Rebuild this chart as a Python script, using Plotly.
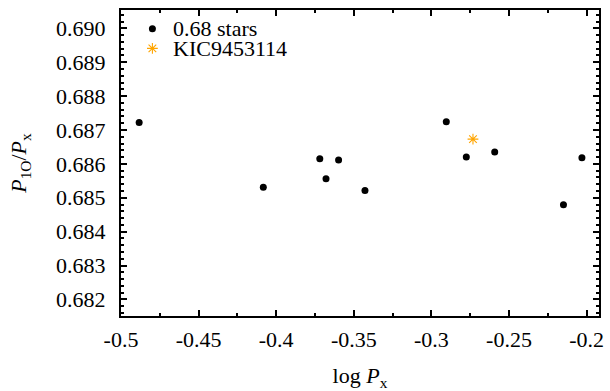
import plotly.graph_objects as go

# 0.68 stars
stars_logP = [-0.4883, -0.4083, -0.3719, -0.3679, -0.3598, -0.3428, -0.2904, -0.2775, -0.2592, -0.2149, -0.2030]
stars_ratio = [0.68722, 0.68531, 0.68615, 0.68556, 0.68611, 0.68521, 0.68724, 0.68620, 0.68635, 0.68479, 0.68618]

# KIC9453114
kic_logP = [-0.2732]
kic_ratio = [0.68673]

series_names = ["0.68 stars", "KIC9453114"]

x_ticks = [-0.5, -0.45, -0.4, -0.35, -0.3, -0.25, -0.2]
x_tick_labels = ["-0.5", "-0.45", "-0.4", "-0.35", "-0.3", "-0.25", "-0.2"]
y_ticks = [0.682, 0.683, 0.684, 0.685, 0.686, 0.687, 0.688, 0.689, 0.690]
y_tick_labels = ["0.682", "0.683", "0.684", "0.685", "0.686", "0.687", "0.688", "0.689", "0.690"]

FONT = "'Liberation Serif', 'Times New Roman', Times, serif"
STAR_COLOR = "#FFA500"

star_marker = dict(symbol="asterisk-open", size=9, color=STAR_COLOR,
                   line=dict(color=STAR_COLOR, width=1.1))
dot_marker = dict(symbol="circle", size=7, color="black")

fig = go.Figure()
fig.add_trace(go.Scatter(
    x=stars_logP, y=stars_ratio, mode="markers", name=series_names[0],
    marker=dot_marker, showlegend=False,
))
fig.add_trace(go.Scatter(
    x=kic_logP, y=kic_ratio, mode="markers", name=series_names[1],
    marker=star_marker, showlegend=False,
))

# manual legend (key symbols on a hidden unit overlay axis)
leg_x = 0.0657
leg_y = [0.939, 0.8745]
fig.add_trace(go.Scatter(x=[leg_x], y=[leg_y[0]], mode="markers", marker=dot_marker,
                         xaxis="x2", yaxis="y2", showlegend=False, hoverinfo="skip"))
fig.add_trace(go.Scatter(x=[leg_x], y=[leg_y[1]], mode="markers", marker=star_marker,
                         xaxis="x2", yaxis="y2", showlegend=False, hoverinfo="skip"))
for name, yy in zip(series_names, leg_y):
    fig.add_annotation(x=0.1049, y=yy, xref="x2", yref="y2", text=name, showarrow=False,
                       xanchor="left", yanchor="middle",
                       font=dict(family=FONT, size=22, color="black"))

def axis_common():
    return dict(
        showline=True, linecolor="black", linewidth=2, mirror="ticks",
        ticks="inside", ticklen=6, tickwidth=1.5, tickcolor="black",
        showgrid=False, zeroline=False,
        tickfont=dict(family=FONT, size=22, color="black"),
    )

xaxis = axis_common()
xaxis.update(
    range=[-0.5, -0.192], tickvals=x_ticks, ticktext=x_tick_labels,
    minor=dict(dtick=0.025, tick0=-0.5, ticks="inside", ticklen=3, tickwidth=1.5, tickcolor="black"),
    title=dict(text="log <i>P</i><sub>x</sub>", font=dict(family=FONT, size=22, color="black"), standoff=17),
    ticklabelstandoff=3,
)
yaxis = axis_common()
yaxis.update(
    range=[0.68151, 0.69054], tickvals=y_ticks, ticktext=y_tick_labels,
    minor=dict(dtick=0.0002, tick0=0.682, ticks="inside", ticklen=3, tickwidth=1.5, tickcolor="black"),
    title=dict(text="<i>P</i><sub>1O</sub>/<i>P</i><sub>x</sub>", font=dict(family=FONT, size=22, color="black"), standoff=23),
    ticklabelstandoff=9,
)

fig.update_layout(
    width=610, height=391,
    margin=dict(l=121, r=6, t=10, b=70),
    plot_bgcolor="white", paper_bgcolor="white",
    font=dict(family=FONT, size=22, color="black"),
    xaxis=xaxis, yaxis=yaxis,
    xaxis2=dict(overlaying="x", range=[0, 1], visible=False, fixedrange=True),
    yaxis2=dict(overlaying="y", range=[0, 1], visible=False, fixedrange=True),
    showlegend=False,
)

fig.write_html("out.html")
